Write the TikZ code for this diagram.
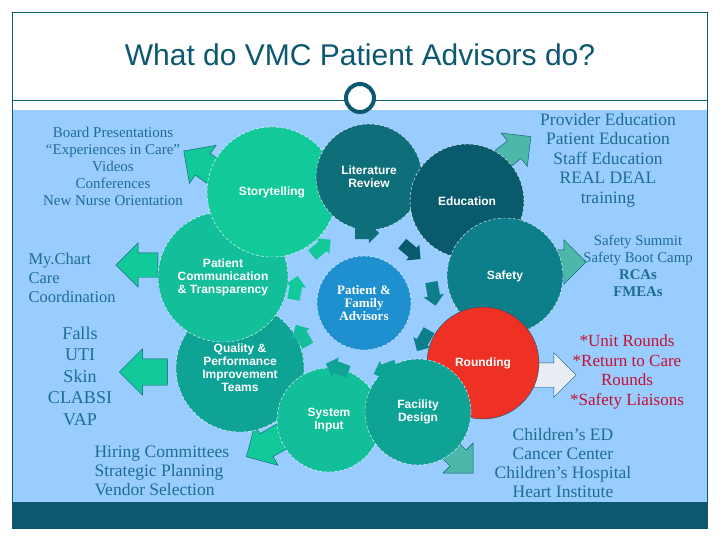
\documentclass[tikz,border=0pt]{standalone}
\usepackage{fontspec}
\setmainfont{Liberation Serif}
\setsansfont{Liberation Sans}
\usetikzlibrary{shapes.arrows,calc,positioning}
\definecolor{bgblue}{HTML}{99CCFF}
\definecolor{frame}{HTML}{0B5870}
\definecolor{txtblue}{HTML}{1F6E8E}
\definecolor{txtred}{HTML}{C8102E}
\definecolor{cgreen}{HTML}{12C99A}
\definecolor{cgreenb}{HTML}{13BE9B}
\definecolor{cteal}{HTML}{0FA396}
\definecolor{cdark}{HTML}{0E6E7A}
\definecolor{cdarker}{HTML}{0A5A6E}
\definecolor{cmid}{HTML}{0D7F8A}
\definecolor{cred}{HTML}{EE3124}
\definecolor{cblue}{HTML}{1E90D0}
\definecolor{aqua}{HTML}{4DB8AA}
\definecolor{pale}{HTML}{E8EEF4}
\tikzset{
  bubble/.style={circle,draw=white,densely dashed,thin,text=white,align=center,
    font=\sffamily\bfseries\fontsize{12}{13}\selectfont,inner sep=0pt},
  bigarrow/.style={single arrow,draw=frame,thin,inner sep=0pt,inner ysep=13pt,
    single arrow head extend=10pt,minimum height=46pt},
  ringarrow/.style={single arrow,inner sep=0pt,inner ysep=6pt,
    single arrow head extend=4pt,minimum height=24pt},
  list/.style={text=txtblue,align=center,font=\fontsize{15}{17}\selectfont},
}
\begin{document}
\begin{tikzpicture}[x=1pt,y=-1pt]
  \useasboundingbox (0,0) rectangle (720,540);
  % slide frame
  \fill[white] (0,0) rectangle (720,540);
  \fill[bgblue] (12,110) rectangle (707,502);
  \fill[frame] (12,502) rectangle (707,528);
  \draw[frame,thin] (12,12) rectangle (707,528);
  \draw[frame,thin] (12,100) -- (707,100);
  \node[text=frame,font=\sffamily\fontsize{30}{34}\selectfont] (title) at (360,55)
    {What do VMC Patient Advisors do?};
  \node[circle,draw=frame,line width=4pt,fill=white,minimum size=28pt] (ring) at (360,98) {};

  % outward arrows
  \node[bigarrow,fill=cgreen,rotate=145] (aStory) at (208,168) {};
  \node[bigarrow,fill=aqua,rotate=38,inner ysep=11pt,minimum height=42pt] (aEdu) at (510,153) {};
  \node[bigarrow,fill=aqua,inner ysep=12pt,minimum height=40pt] (aSafe) at (560,262) {};
  \node[bigarrow,fill=pale,inner ysep=12pt,minimum height=42pt] (aRound) at (549,375) {};
  \node[bigarrow,fill=aqua,rotate=-45,inner ysep=11pt,minimum height=40pt] (aFac) at (455,455) {};
  \node[bigarrow,fill=cgreen,rotate=-150] (aSys) at (272,442) {};
  \node[bigarrow,fill=cgreen,rotate=180,inner ysep=12pt,minimum height=42pt] (aPC) at (143,265) {};
  \node[bigarrow,fill=cgreen,rotate=180,minimum height=48pt] (aQual) at (150,372) {};

  % circles
  \node[bubble,fill=cteal,minimum size=128pt] (qual) at (240,368)
    {Quality \&\\Performance\\Improvement\\Teams};
  \node[bubble,fill=cgreenb,minimum size=130pt] (comm) at (223,277)
    {Patient\\Communication\\\& Transparency};
  \node[bubble,fill=cgreen,minimum size=130pt] (story) at (272,192) {Storytelling};
  \node[bubble,fill=cdark,minimum size=106pt] (lit) at (369,177) {Literature\\Review};
  \node[bubble,fill=cdarker,minimum size=114pt] (edu) at (467,201) {Education};
  \node[bubble,fill=cmid,minimum size=116pt] (safe) at (505,276) {Safety};
  \node[bubble,fill=cred,solid,draw=frame,minimum size=112pt] (round) at (483,363) {Rounding};
  \node[bubble,fill=cgreenb,minimum size=104pt] (sys) at (329,420) {System\\Input};
  \node[bubble,fill=cteal,minimum size=106pt] (fac) at (418,412) {Facility\\Design};
  \node[bubble,fill=cblue,minimum size=94pt,
    font=\bfseries\fontsize{13}{13}\selectfont] (ctr) at (364,303)
    {Patient \&\\Family\\Advisors};

  % ring of small arrows
  \foreach \a/\c [count=\i] in {90/cdark,50/cdarker,10/cmid,-30/cmid,-70/cteal,
      -110/cteal,-150/cgreenb,170/cgreen,130/cgreen} {
    \node[ringarrow,fill=\c,rotate=\a-90] (r\i)
      at ($(ctr)+({70*cos(\a)},{-70*sin(\a)})$) {};
  }

  % lists
  \node[list] (lStory) at (113,166) {Board Presentations\\``Experiences in Care''\\Videos\\Conferences\\New Nurse Orientation};
  \node[list,align=left,font=\fontsize{16.5}{19}\selectfont,anchor=west] (lComm) at (25,278) {My.Chart\\Care\\Coordination};
  \node[list,font=\fontsize{18}{21.5}\selectfont] (lQual) at (80,376) {Falls\\UTI\\Skin\\CLABSI\\VAP};
  \node[list,align=left,font=\fontsize{17.5}{19}\selectfont,anchor=west] (lSys) at (91,471) {Hiring Committees\\Strategic Planning\\Vendor Selection};
  \node[list,font=\fontsize{17.5}{19.5}\selectfont] (lEdu) at (608,160) {Provider Education\\Patient Education\\Staff Education\\REAL DEAL\\training};
  \node[list,font=\fontsize{14.8}{17}\selectfont] (lSafe) at (638,266) {Safety Summit\\Safety Boot Camp\\\textbf{RCAs}\\\textbf{FMEAs}};
  \node[list,text=txtred,font=\fontsize{17}{19.5}\selectfont] (lRound) at (627,372) {*Unit Rounds\\*Return to Care\\Rounds\\*Safety Liaisons};
  \node[list,font=\fontsize{17.5}{19}\selectfont] (lFac) at (563,463) {Children’s ED\\Cancer Center\\Children’s Hospital\\Heart Institute};
\end{tikzpicture}
\end{document}
